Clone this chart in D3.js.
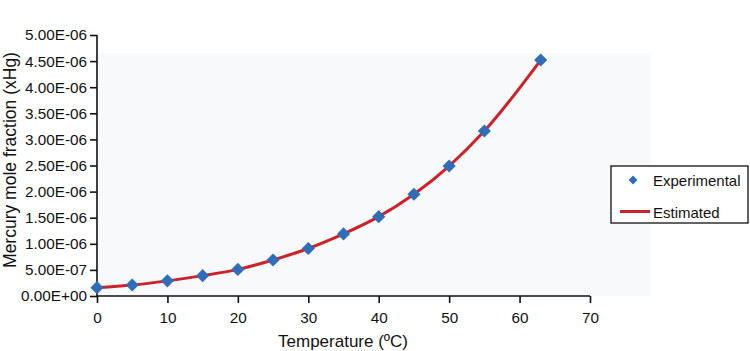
<!DOCTYPE html>
<html>
<head>
<meta charset="utf-8">
<script src="https://cdn.jsdelivr.net/npm/d3@7"></script>
<style>
  body { margin: 0; background: #fff; }
  text { font-family: "Liberation Sans", Arial, sans-serif; fill: #111; }
</style>
</head>
<body>
<script>
// chart size
const width = 750;
const height = 351;

// data
const temps = [0, 5, 10, 15, 20, 25, 30, 35, 40, 45, 50, 55, 63];
const experimental = [1.6e-7, 2.1e-7, 2.9e-7, 3.9e-7, 5.1e-7, 6.9e-7, 9.1e-7, 1.19e-6, 1.52e-6, 1.95e-6, 2.49e-6, 3.16e-6, 4.52e-6];
const estimated = [1.6e-7, 2.1e-7, 2.9e-7, 3.9e-7, 5.1e-7, 6.9e-7, 9.1e-7, 1.19e-6, 1.52e-6, 1.95e-6, 2.49e-6, 3.16e-6, 4.52e-6];
const xTicks = [0, 10, 20, 30, 40, 50, 60, 70];
const yTicks = [0, 5e-7, 1e-6, 1.5e-6, 2e-6, 2.5e-6, 3e-6, 3.5e-6, 4e-6, 4.5e-6, 5e-6];
const seriesNames = ["Experimental", "Estimated"];

const svg = d3.select("body").append("svg")
  .attr("width", width)
  .attr("height", height);

const x = d3.scaleLinear().domain([0, 70]).range([97, 590]);
const y = d3.scaleLinear().domain([0, 5e-6]).range([296, 35]);

// light plot background
svg.append("rect")
  .attr("x", 97).attr("y", 53)
  .attr("width", 651 - 97).attr("height", 296 - 53)
  .attr("fill", "#f8f9fa");

// format like 5.00E-06
function sci(v) {
  if (v === 0) return "0.00E+00";
  const e = Math.floor(Math.log10(v));
  const m = v / Math.pow(10, e);
  const sign = e < 0 ? "-" : "+";
  return m.toFixed(2) + "E" + sign + String(Math.abs(e)).padStart(2, "0");
}

// axes
const yAxis = svg.append("g")
  .attr("transform", "translate(97,0)")
  .call(d3.axisLeft(y).tickValues(yTicks).tickFormat(sci).tickSize(7).tickPadding(3));
const xAxis = svg.append("g")
  .attr("transform", "translate(0,296)")
  .call(d3.axisBottom(x).tickValues(xTicks).tickFormat(d3.format("d")).tickSize(7).tickPadding(9));

[yAxis, xAxis].forEach(a => {
  a.select(".domain").attr("stroke", "#111").attr("stroke-width", 1.6);
  a.selectAll(".tick line").attr("stroke", "#111").attr("stroke-width", 1.6);
  a.selectAll(".tick text").style("font-size", "15.3px").attr("fill", "#111");
});
// no outer ticks on the domain lines
xAxis.select(".domain").attr("d", "M97,0H590");
yAxis.select(".domain").attr("d", "M0,35V296");

// axis titles
svg.append("text")
  .attr("x", 343).attr("y", 347)
  .attr("text-anchor", "middle")
  .style("font-size", "17px")
  .text("Temperature (ºC)");

svg.append("text")
  .attr("transform", "translate(16,160) rotate(-90)")
  .attr("text-anchor", "middle")
  .style("font-size", "17.5px")
  .text("Mercury mole fraction (xHg)");

// estimated curve
const line = d3.line()
  .x((d, i) => x(temps[i]))
  .y(d => y(d))
  .curve(d3.curveMonotoneX);

svg.append("path")
  .datum(estimated)
  .attr("d", line)
  .attr("fill", "none")
  .attr("stroke", "#cc2229")
  .attr("stroke-width", 3);

// experimental markers
const diamond = d3.symbol().type(d3.symbolDiamond2).size(110);
svg.selectAll(".pt")
  .data(experimental)
  .enter().append("path")
  .attr("class", "pt")
  .attr("transform", (d, i) => `translate(${x(temps[i])},${y(d)})`)
  .attr("d", diamond)
  .attr("fill", "#2f6db8");

// legend
const legend = svg.append("g");
legend.append("rect")
  .attr("x", 611).attr("y", 166)
  .attr("width", 137).attr("height", 57)
  .attr("fill", "#fff")
  .attr("stroke", "#111")
  .attr("stroke-width", 1.3);

legend.append("path")
  .attr("transform", "translate(633,180)")
  .attr("d", d3.symbol().type(d3.symbolDiamond2).size(50))
  .attr("fill", "#2f6db8");

legend.append("line")
  .attr("x1", 620).attr("x2", 650)
  .attr("y1", 211.5).attr("y2", 211.5)
  .attr("stroke", "#cc2229")
  .attr("stroke-width", 3);

legend.selectAll(".lt")
  .data(seriesNames)
  .enter().append("text")
  .attr("class", "lt")
  .attr("x", 653)
  .attr("y", (d, i) => 185.5 + i * 32)
  .style("font-size", "15px")
  .text(d => d);
</script>
</body>
</html>
